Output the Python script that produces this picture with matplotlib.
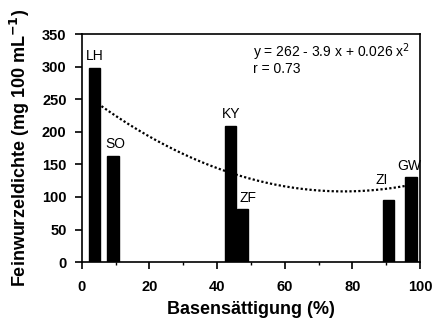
import numpy as np
import matplotlib
matplotlib.use("Agg")
import matplotlib.pyplot as plt

plt.rcParams["font.family"] = ["Liberation Sans", "DejaVu Sans"]

# Stand-Kürzel, Basensättigung (%) und Feinwurzeldichte (mg 100 mL-1)
sites = ["LH", "SO", "KY", "ZF", "ZI", "GW"]
base_sat = [3.8, 9.2, 44.0, 47.5, 90.7, 97.3]
root_density = [298, 163, 209, 81, 96, 131]

# quadratic fit y = a + b x + c x^2
fit_a, fit_b, fit_c = 261.5, -3.95, 0.0255
fit_range = (5.8, 95.5)

# label positions (x, y) per site
label_pos = {"LH": (3.8, 305), "SO": (9.8, 170),
             "KY": (44.0, 216), "ZF": (49.2, 87),
             "ZI": (88.8, 116), "GW": (96.8, 137)}

fig = plt.figure(figsize=(4.33, 3.22), dpi=100)
ax = fig.add_axes([0.189, 0.186, 0.781, 0.708])

ax.bar(base_sat, root_density, width=3.4, color="black", edgecolor="black", zorder=3)

xs = np.linspace(*fit_range, 200)
ax.plot(xs, fit_a + fit_b * xs + fit_c * xs ** 2, color="black", lw=1.6,
        linestyle=(0, (1, 1)), zorder=2)

for s in sites:
    x, y = label_pos[s]
    ax.text(x, y, s, ha="center", va="bottom", fontsize=10)

ax.text(50.6, 322, "y = 262 - 3.9 x + 0.026 x$^2$", fontsize=10, va="center")
ax.text(50.6, 296, "r = 0.73", fontsize=10, va="center")

ax.set_xlim(0, 100)
ax.set_ylim(0, 350)
ax.set_xticks(range(0, 101, 20))
ax.set_xticks(range(10, 100, 20), minor=True)
ax.set_yticks(range(0, 351, 50))
ax.tick_params(axis="both", which="major", direction="out", length=5, width=1.2,
               labelsize=10.5, pad=6)
ax.tick_params(axis="x", which="major", pad=8)
ax.tick_params(axis="x", which="minor", direction="out", length=2.5, width=1)
for lab in ax.get_xticklabels() + ax.get_yticklabels():
    lab.set_fontweight("bold")
for sp in ax.spines.values():
    sp.set_linewidth(1.2)

ax.set_xlabel("Basensättigung (%)", fontsize=13, fontweight="bold", labelpad=5)
ax.set_ylabel("Feinwurzeldichte (mg 100 mL$^{\\mathbf{-1}}$)", fontsize=13,
              fontweight="bold", labelpad=7)

fig.savefig("out.png", dpi=100)
